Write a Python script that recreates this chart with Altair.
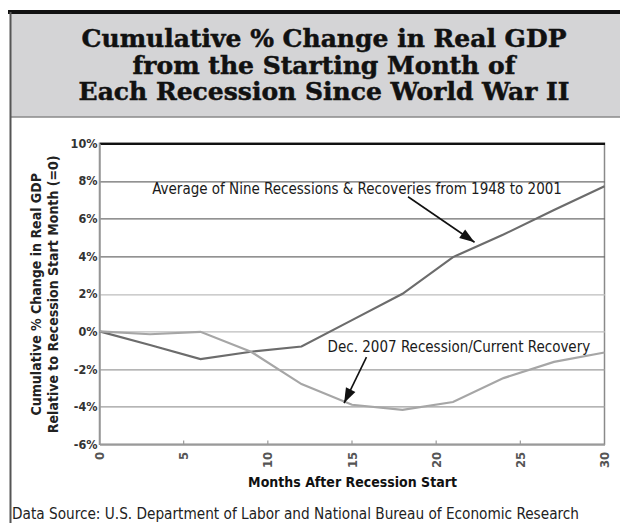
import math
import altair as alt
import pandas as pd

# ---------------- data ----------------
months = [0, 3, 6, 9, 12, 15, 18, 21, 24, 27, 30]
avg_1948_2001 = [0.0, -0.72, -1.47, -1.08, -0.80, 0.60, 2.00, 3.95, 5.15, 6.45, 7.72]
rec_2007 = [0.0, -0.15, -0.02, -1.08, -2.80, -3.90, -4.17, -3.75, -2.48, -1.62, -1.12]
series_names = [
    "Average of Nine Recessions & Recoveries from 1948 to 2001",
    "Dec. 2007 Recession/Current Recovery",
]
y_ticks = [-6, -4, -2, 0, 2, 4, 6, 8, 10]
x_ticks = [0, 5, 10, 15, 20, 25, 30]
title_lines = [
    "Cumulative % Change in Real GDP",
    "from the Starting Month of",
    "Each Recession Since World War II",
]
y_title_lines = ["Cumulative % Change in Real GDP", "Relative to Recession Start Month (=0)"]
x_title = "Months After Recession Start"
source_note = "Data Source: U.S. Department of Labor and National Bureau of Economic Research"

# annotation anchors (data units: months, %)
ann_text_month = [15.3, 21.35]
ann_text_pct = [7.55, -0.84]
arrow_from_month = [18.33, 15.86]
arrow_from_pct = [7.16, -1.37]
arrow_to_month = [22.28, 14.53]
arrow_to_pct = [4.74, -3.81]
tick_mark_len_pct = 0.2

# ---------------- layout ----------------
W, H = 505, 301
PAD_L, PAD_T = 91.5, 135.3
PAD_R = 612 - PAD_L - W
PAD_B = 515 - PAD_T - H
X_DOM, Y_DOM = [0, 30], [-6, 10]
NARROW = "Liberation Sans Narrow, Arial Narrow, DejaVu Sans Condensed, sans-serif"
SERIF = "DejaVu Serif, Liberation Serif, serif"

xs = alt.Scale(domain=X_DOM, nice=False, zero=False)
ys = alt.Scale(domain=Y_DOM, nice=False, zero=False)

lines_df = pd.DataFrame({
    "month": months + months,
    "pct": avg_1948_2001 + rec_2007,
    "series": [series_names[0]] * len(months) + [series_names[1]] * len(months),
})

px_m = W / (X_DOM[1] - X_DOM[0])
px_p = H / (Y_DOM[1] - Y_DOM[0])
angles = []
for fm, fp, tm, tp in zip(arrow_from_month, arrow_from_pct, arrow_to_month, arrow_to_pct):
    dx = (tm - fm) * px_m
    dy = -(tp - fp) * px_p
    angles.append(math.degrees(math.atan2(dx, -dy)) % 360)

ann_df = pd.DataFrame({
    "label": series_names,
    "tm": ann_text_month, "tp": ann_text_pct,
    "fm": arrow_from_month, "fp": arrow_from_pct,
    "am": arrow_to_month, "ap": arrow_to_pct,
    "angle": angles,
})

grid_color = {
    "condition": [
        {"test": "datum.value == 10", "value": "#111111"},
        {"test": "datum.value >= 4", "value": "#6e6e6e"},
        {"test": "datum.value >= 0", "value": "#bdbdbd"},
    ],
    "value": "#9c9c9c",
}
grid_width = {"condition": {"test": "datum.value == 10", "value": 2.2}, "value": 1.3}

x_axis = alt.Axis(
    values=x_ticks, labelAngle=270, labelFont=NARROW,
    labelFontWeight="bold", labelFontSize=13, labelColor="#555555", labelPadding=7,
    ticks=False, grid=False, domainColor="#9a9a9a", domainWidth=1.5,
    titleFont=NARROW, titleFontSize=14, titleFontWeight="bold", titleColor="#111111",
    titleY=38, titleBaseline="middle",
)
y_axis = alt.Axis(
    values=y_ticks, labelExpr="datum.value + '%'", labelOverlap=False,
    labelFont=NARROW, labelFontWeight="bold", labelFontSize=12.5, labelColor="#333333",
    labelPadding=2.5, ticks=False, grid=True, gridColor=grid_color, gridWidth=grid_width,
    domainColor="#9a9a9a", domainWidth=1.5,
    titleFont=NARROW, titleFontSize=14, titleFontWeight="bold", titleColor="#222222",
    titleAngle=270, titleX=-63, titleY=H / 2, titleAlign="center", titleBaseline="middle",
    titleLineHeight=17,
)


def X(field):
    return alt.X(field, type="quantitative", scale=xs, axis=x_axis, title=x_title)


def Y(field):
    return alt.Y(field, type="quantitative", scale=ys, axis=y_axis, title=y_title_lines)


lines = alt.Chart(lines_df).mark_line(strokeWidth=2.2).encode(
    x=X("month"),
    y=Y("pct"),
    color=alt.Color("series:N", scale=alt.Scale(domain=series_names, range=["#6c6c6c", "#a6a6a6"]), legend=None),
)

ticks_df = pd.DataFrame({"m": x_ticks[1:-1]})
ticks_df["lo"] = Y_DOM[0]
ticks_df["hi"] = Y_DOM[0] + tick_mark_len_pct
inner_ticks = alt.Chart(ticks_df).mark_rule(color="#9a9a9a", strokeWidth=1.2).encode(
    x=X("m"), y=Y("lo"), y2="hi:Q",
)

shafts = alt.Chart(ann_df).mark_rule(color="#111111", strokeWidth=1.6).encode(
    x=X("fm"), y=Y("fp"), x2="am:Q", y2="ap:Q",
)
heads = alt.Chart(ann_df).mark_point(
    shape="M0,0L-0.7,2L0.7,2Z", filled=True, size=225, color="#111111", opacity=1, strokeWidth=0
).encode(
    x=X("am"), y=Y("ap"), angle=alt.Angle("angle:Q", scale=None),
)
labels = alt.Chart(ann_df).mark_text(
    font=NARROW, fontSize=15, color="#1a1a1a", align="center", baseline="middle"
).encode(
    x=X("tm"), y=Y("tp"), text="label:N",
)

one = pd.DataFrame({"k": [0]})
ox, oy = 8 + PAD_L, 8 + PAD_T  # page position of plot origin


def px(v):
    return v - ox


def py(v):
    return v - oy


gray_box = alt.Chart(one).mark_rect(color="#d4d4d6").encode(
    x=alt.value(px(10)), x2=alt.value(px(620)), y=alt.value(py(14)), y2=alt.value(py(117)),
)
black_bar = alt.Chart(one).mark_rect(color="#111111").encode(
    x=alt.value(px(8)), x2=alt.value(px(620)), y=alt.value(py(10)), y2=alt.value(py(14)),
)
box_bottom = alt.Chart(one).mark_rule(color="#8a8a8a", strokeWidth=1.5).encode(
    x=alt.value(px(10)), x2=alt.value(px(620)), y=alt.value(py(117)),
)
left_border = alt.Chart(one).mark_rule(color="#555555", strokeWidth=2).encode(
    x=alt.value(px(10.5)), y=alt.value(py(12)), y2=alt.value(py(531)),
)
title = alt.Chart(one).mark_text(
    text=title_lines, font=SERIF, fontSize=25, fontWeight="bold", color="#111111",
    stroke="#111111", strokeWidth=0.5,
    align="center", baseline="alphabetic", lineHeight=26.5,
).encode(x=alt.value(px(324)), y=alt.value(py(47)))
footer = alt.Chart(one).mark_text(
    text=source_note, font=NARROW, fontSize=15.2, color="#222222", align="left", baseline="middle",
).encode(x=alt.value(px(12)), y=alt.value(py(514)))

chart = alt.layer(
    lines, gray_box, black_bar, box_bottom, left_border, title,
    inner_ticks, shafts, heads, labels, footer,
).properties(
    width=W, height=H,
    padding={"left": PAD_L, "top": PAD_T, "right": PAD_R, "bottom": PAD_B},
    autosize=alt.AutoSizeParams(type="none"),
    background="white",
).configure_view(stroke="#8a8a8a", strokeWidth=1.5)

chart.save("out.html", embed_options={"renderer": "svg", "actions": False})
